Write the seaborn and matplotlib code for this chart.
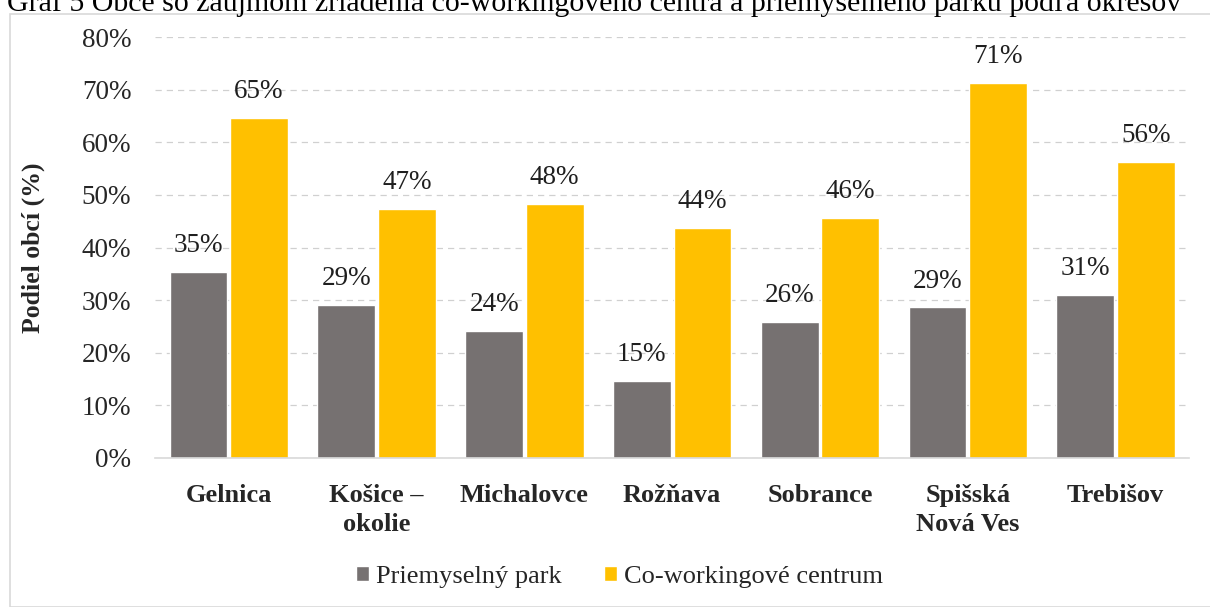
import numpy as np
import pandas as pd
import matplotlib.pyplot as plt
import seaborn as sns
from matplotlib.patches import Rectangle
from matplotlib.ticker import PercentFormatter

# Data
districts = ['Gelnica', 'Košice –\nokolie', 'Michalovce', 'Rožňava', 'Sobrance',
             'Spišská\nNová Ves', 'Trebišov']
park = [35.3, 29.0, 24.1, 14.6, 25.8, 28.6, 31.0]
cowork = [64.6, 47.3, 48.2, 43.8, 45.7, 71.3, 56.2]
series = ['Priemyselný park', 'Co-workingové centrum']
colors = ['#767171', '#FFC000']

df = pd.DataFrame({
    'okres': districts * 2,
    'typ': [series[0]] * len(districts) + [series[1]] * len(districts),
    'podiel': [v / 100 for v in park + cowork],
})

sns.set_theme(style='white')
plt.rcParams['font.family'] = ['Liberation Serif', 'DejaVu Serif']

fig = plt.figure(figsize=(12.1, 6.07), dpi=100)
ax = fig.add_axes([0.128, 0.2455, 0.855, 0.6935])

sns.barplot(data=df, x='okres', y='podiel', hue='typ', palette=colors,
            width=0.82, gap=0.045, saturation=1, ax=ax, legend=True)

for cont in ax.containers:
    vals = [b.get_height() for b in cont]
    ax.bar_label(cont, labels=[f'{round(v * 100):.0f}%' for v in vals],
                 padding=10, fontsize=19.5, color='#1f1f1f')

ax.set_ylim(0, 0.8)
ax.set_yticks(np.arange(0, 0.81, 0.1))
ax.yaxis.set_major_formatter(PercentFormatter(1.0, decimals=0))
ax.tick_params(axis='y', labelsize=19.5, colors='#262626', length=0, pad=17)
ax.tick_params(axis='x', labelsize=19, length=0, pad=19)
for t in ax.get_xticklabels():
    t.set_fontweight('bold')
    t.set_linespacing(1.3)
ax.grid(axis='y', color='#D0D0D0', linestyle=(0, (5, 4)), linewidth=0.9)
ax.set_axisbelow(True)
for s in ['top', 'right', 'left']:
    ax.spines[s].set_visible(False)
ax.spines['bottom'].set_color('#D9D9D9')
ax.spines['bottom'].set_linewidth(1.2)
ax.set_xlabel('')
ax.set_ylabel('Podiel obcí (%)', fontsize=18.5, fontweight='bold')
ax.yaxis.set_label_coords(-0.106, 0.5)
ax.set_xlim(-0.5, len(districts) - 0.5)

handles, labels = ax.get_legend_handles_labels()
ax.legend(handles, labels, loc='center', bbox_to_anchor=(0.449, -0.283),
          ncol=2, frameon=False, fontsize=19, handlelength=0.5, handleheight=0.5,
          handletextpad=0.25, columnspacing=1.6)

# chart-area frame and the cut-off caption above it
fig.patches.append(Rectangle((10 / 1210, 0), 1.0, 1 - 14 / 607,
                             transform=fig.transFigure, fill=False,
                             edgecolor='#D9D9D9', linewidth=1.2))
fig.text(0.006, 1 - 11 / 607,
         'Graf 5 Obce so záujmom zriadenia co-workingového centra a priemyselného parku podľa okresov',
         fontsize=21.5, ha='left', va='baseline', color='black')

fig.savefig('out.png', dpi=100)
